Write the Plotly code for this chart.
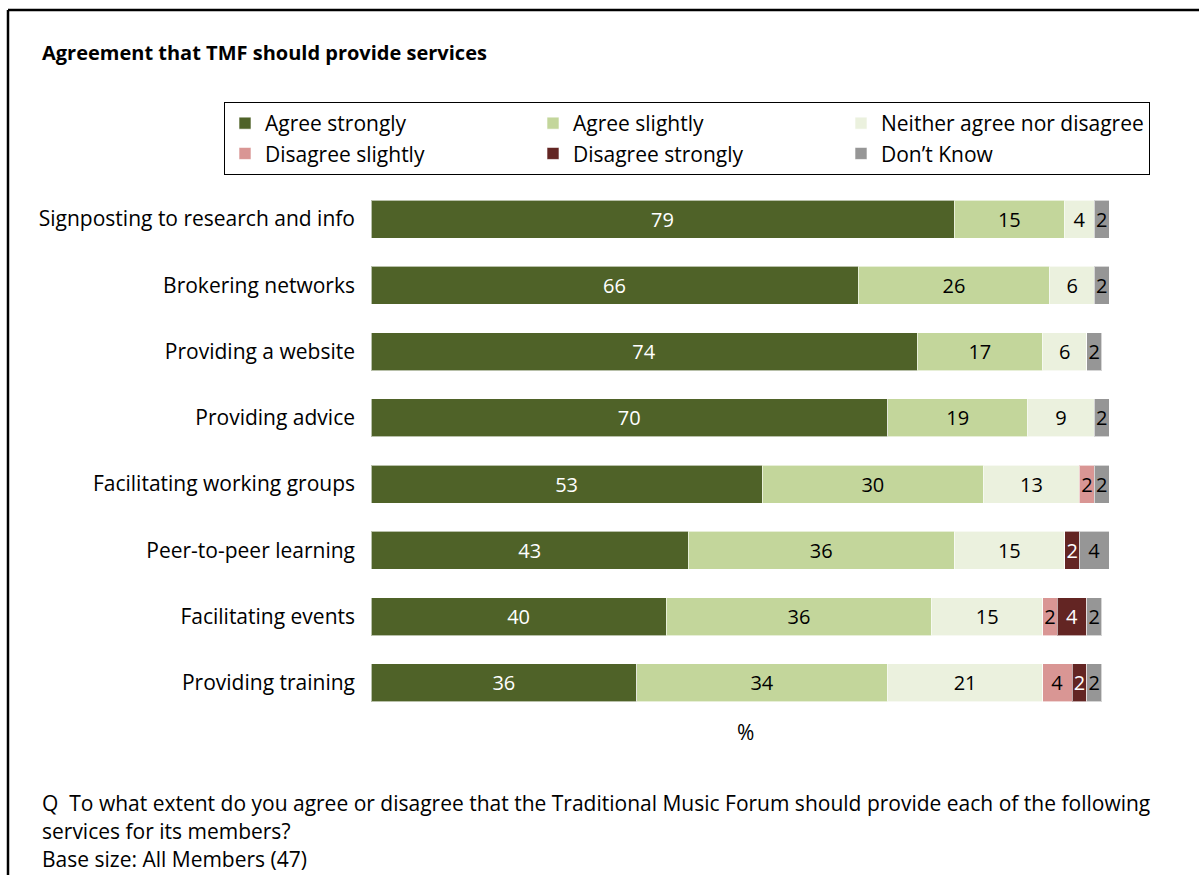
import plotly.graph_objects as go

# Survey results: share of members (%) per response, for each service
categories = [
    "Signposting to research and info",
    "Brokering networks",
    "Providing a website",
    "Providing advice",
    "Facilitating working groups",
    "Peer-to-peer learning",
    "Facilitating events",
    "Providing training",
]
agree_strongly = [79, 66, 74, 70, 53, 43, 40, 36]
agree_slightly = [15, 26, 17, 19, 30, 36, 36, 34]
neither = [4, 6, 6, 9, 13, 15, 15, 21]
disagree_slightly = [0, 0, 0, 0, 2, 0, 2, 4]
disagree_strongly = [0, 0, 0, 0, 0, 2, 4, 2]
dont_know = [2, 2, 2, 2, 2, 4, 2, 2]

series = [
    ("Agree strongly", agree_strongly, "#4F6228", "white"),
    ("Agree slightly", agree_slightly, "#C3D69B", "black"),
    ("Neither agree nor disagree", neither, "#EBF1DE", "black"),
    ("Disagree slightly", disagree_slightly, "#D99694", "black"),
    ("Disagree strongly", disagree_strongly, "#632523", "white"),
    ("Don\u2019t Know", dont_know, "#969696", "black"),
]

FONT = "Open Sans"
FS = 21
W, H = 1199, 875
PL, PR, PT, PB = 371, 1109, 186, 716  # plot area in pixels


def px_x(p):
    return (p - PL) / (PR - PL)


def px_y(p):
    return (PB - p) / (PB - PT)


fig = go.Figure()
for name, vals, color, tcolor in series:
    fig.add_trace(go.Bar(
        name=name,
        y=categories,
        x=vals,
        orientation="h",
        marker=dict(color=color, line=dict(color="rgba(255,255,255,0.6)", width=1)),
        text=[str(v) if v else "" for v in vals],
        textposition="inside",
        insidetextanchor="middle",
        textangle=0,
        constraintext="none",
        textfont=dict(family=FONT, size=20, color=tcolor),
        hoverinfo="skip",
    ))

fig.update_layout(
    barmode="stack",
    bargap=0.43,
    width=W,
    height=H,
    margin=dict(l=PL, r=W - PR, t=PT, b=H - PB, autoexpand=False),
    paper_bgcolor="white",
    plot_bgcolor="white",
    font=dict(family=FONT, size=FS, color="black"),
    showlegend=True,
    legend=dict(
        orientation="h",
        x=px_x(224), xanchor="left",
        y=px_y(102), yanchor="top",
        entrywidth=263,
        bordercolor="black",
        borderwidth=1,
        font=dict(family=FONT, size=FS, color="black"),
        traceorder="normal",
        itemclick=False,
    ),
    xaxis=dict(range=[0, 100], visible=False, fixedrange=True),
    yaxis=dict(
        autorange="reversed",
        showgrid=False,
        showline=False,
        zeroline=False,
        ticks="",
        ticklabelstandoff=15,
        tickfont=dict(family=FONT, size=FS, color="black"),
    ),
)

annotations = [
    dict(text="<b>Agreement that TMF should provide services</b>",
         x=px_x(40), y=px_y(52), xanchor="left", yanchor="middle",
         font=dict(family=FONT, size=20)),
    dict(text="%", x=px_x(745), y=px_y(732), xanchor="center", yanchor="middle",
         font=dict(family=FONT, size=FS)),
    dict(text="Q  To what extent do you agree or disagree that the Traditional Music Forum should provide each of the following",
         x=px_x(40), y=px_y(803), xanchor="left", yanchor="middle",
         font=dict(family=FONT, size=FS)),
    dict(text="services for its members?",
         x=px_x(40), y=px_y(831), xanchor="left", yanchor="middle",
         font=dict(family=FONT, size=FS)),
    dict(text="Base size: All Members (47)",
         x=px_x(40), y=px_y(859), xanchor="left", yanchor="middle",
         font=dict(family=FONT, size=FS)),
]
for a in annotations:
    a.update(xref="paper", yref="paper", showarrow=False)
fig.update_layout(annotations=annotations)

# Outer frame (top and left edges)
fig.add_shape(type="line", xref="paper", yref="paper",
              x0=px_x(8), y0=px_y(10), x1=px_x(1199), y1=px_y(10),
              line=dict(color="black", width=2.5))
fig.add_shape(type="line", xref="paper", yref="paper",
              x0=px_x(8), y0=px_y(10), x1=px_x(8), y1=px_y(875),
              line=dict(color="black", width=2.5))

fig.write_html("out.html")
